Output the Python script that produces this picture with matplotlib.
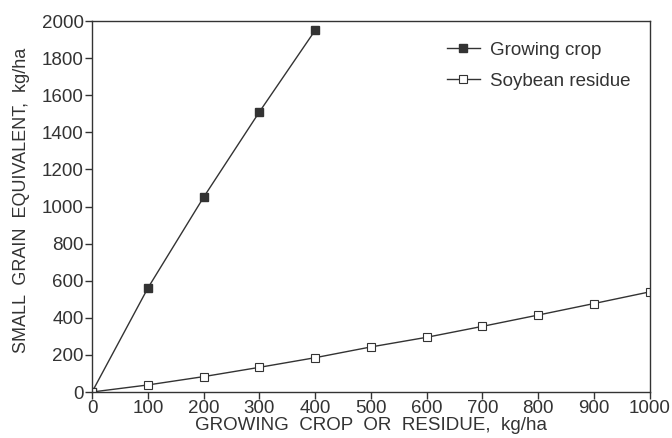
import matplotlib.pyplot as plt

# Data
crop_x = [0, 100, 200, 300, 400]
crop_y = [0, 560, 1050, 1510, 1950]
residue_x = [0, 100, 200, 300, 400, 500, 600, 700, 800, 900, 1000]
residue_y = [0, 38, 83, 133, 185, 243, 295, 354, 415, 477, 540]

ink = '#333333'
plt.rcParams['font.family'] = ['Liberation Sans', 'DejaVu Sans']
plt.rcParams['text.color'] = ink
plt.rcParams['axes.labelcolor'] = ink
plt.rcParams['xtick.color'] = ink
plt.rcParams['ytick.color'] = ink

fig = plt.figure(figsize=(6.72, 4.38), dpi=100)
ax = fig.add_axes([0.137, 0.105, 0.83, 0.847])

ax.plot(crop_x, crop_y, color=ink, lw=1, marker='s', ms=6,
        mfc=ink, mec=ink, label='Growing crop')
ax.plot(residue_x, residue_y, color=ink, lw=1, marker='s', ms=6,
        mfc='white', mec=ink, mew=0.8, label='Soybean residue')

ax.set_xlim(0, 1000)
ax.set_ylim(0, 2000)
ax.set_xticks(range(0, 1001, 100))
ax.set_yticks(range(0, 2001, 200))
ax.tick_params(labelsize=13.5, direction='out', length=5, width=1, pad=1)
for s in ax.spines.values():
    s.set_color(ink)
    s.set_linewidth(1)

ax.set_xlabel('GROWING  CROP  OR  RESIDUE,  kg/ha', fontsize=13.5, labelpad=0)
ax.set_ylabel('SMALL  GRAIN  EQUIVALENT,  kg/ha', fontsize=13)
ax.yaxis.set_label_coords(-0.112, 0.517)

ax.legend(loc='upper right', frameon=False, fontsize=13.5, handlelength=1.8,
          handletextpad=0.5, bbox_to_anchor=(0.995, 0.99), labelspacing=0.75)

fig.savefig('out.png', dpi=100)
